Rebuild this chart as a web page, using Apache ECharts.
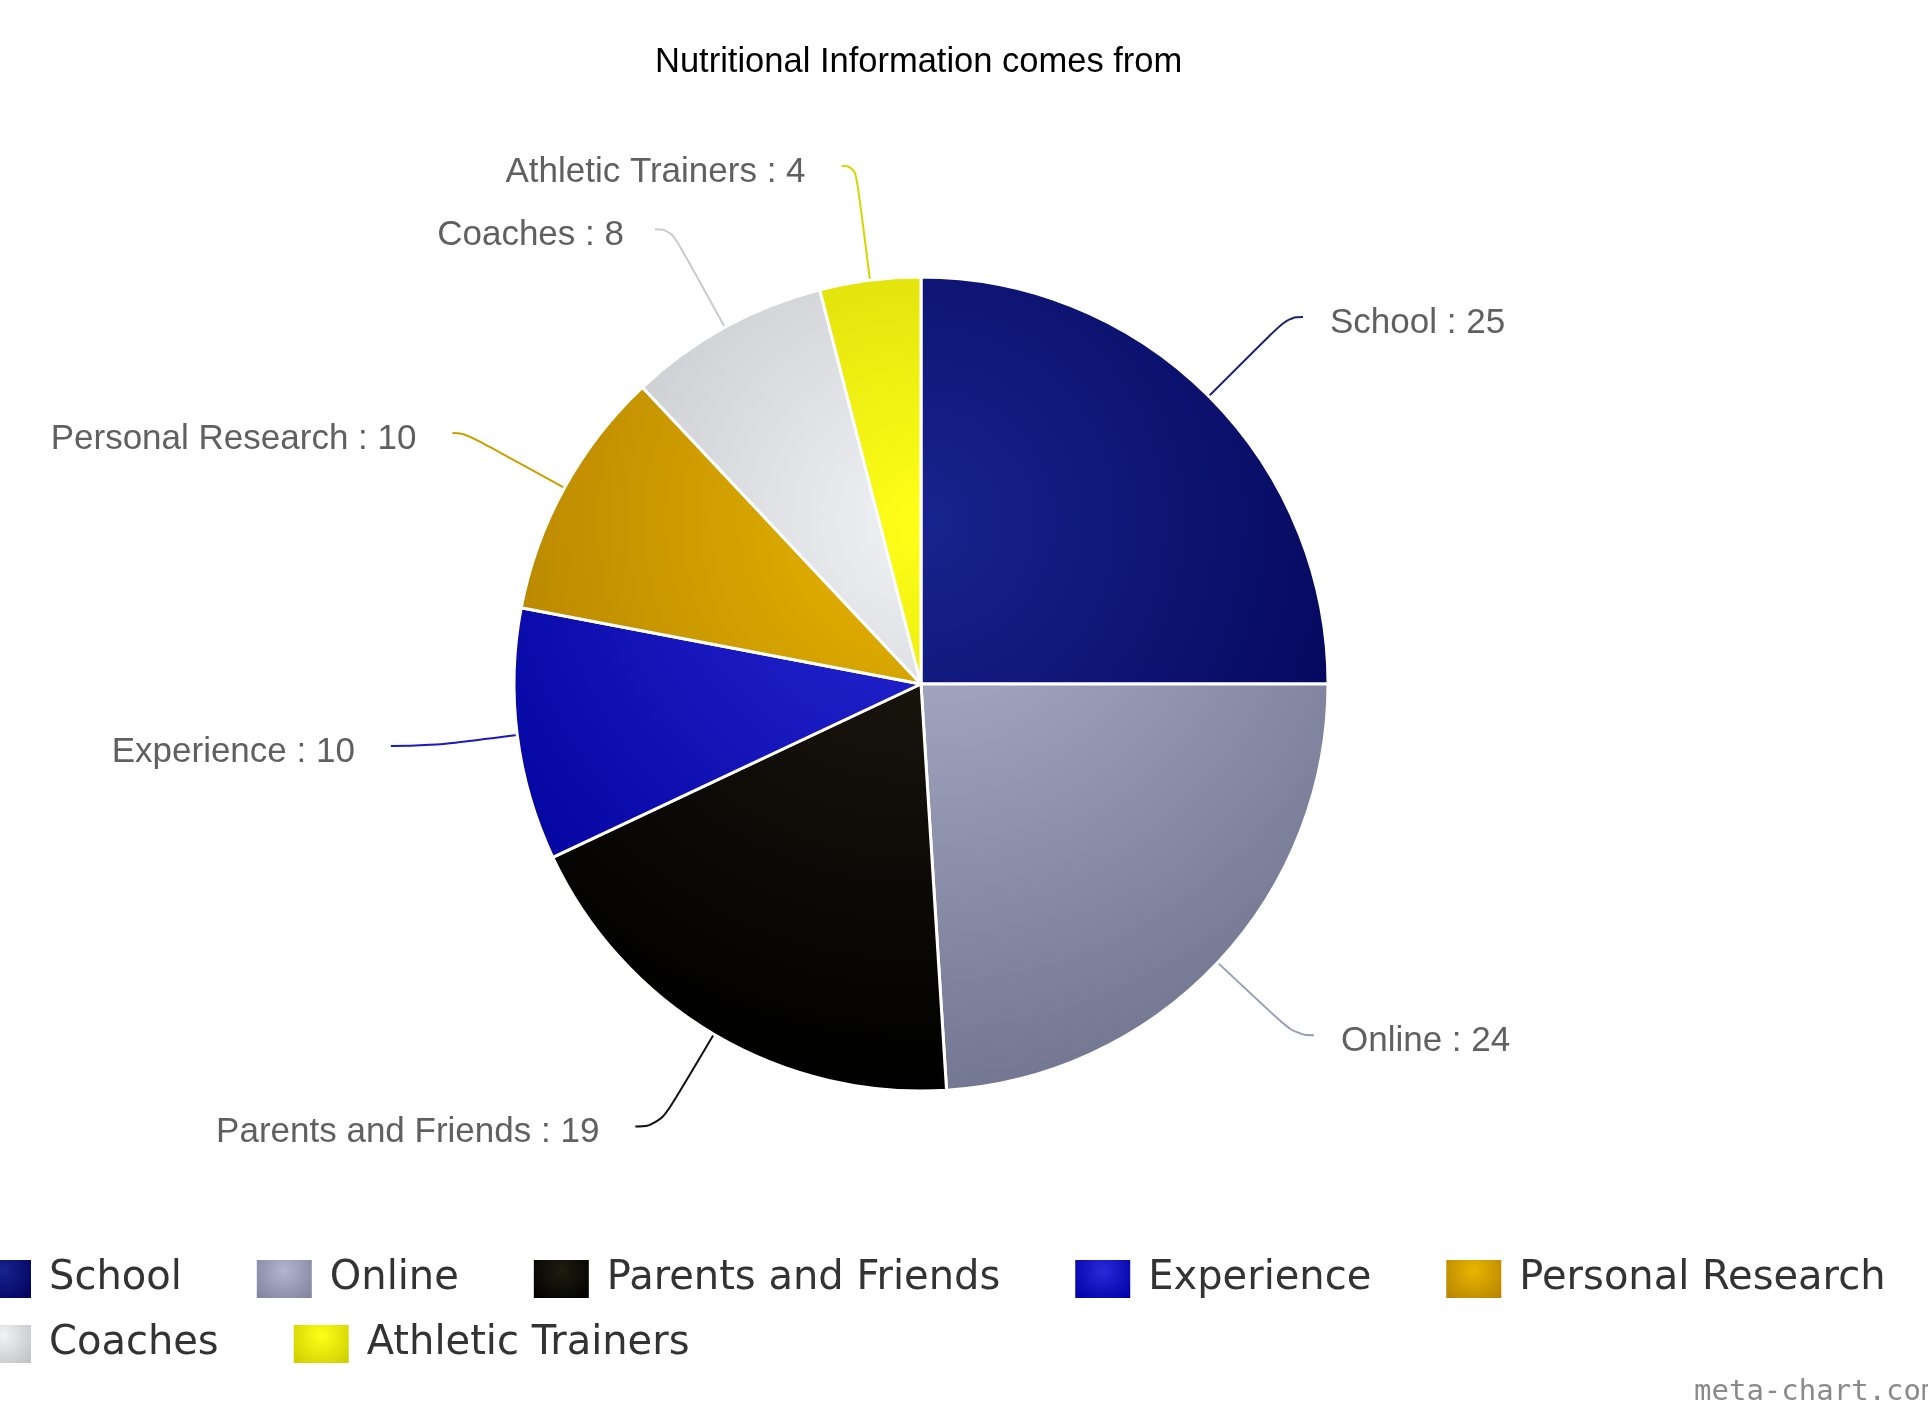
<!DOCTYPE html>
<html><head><meta charset="utf-8">
<script src="https://cdn.jsdelivr.net/npm/echarts@6/dist/echarts.min.js"></script>
<style>html,body{margin:0;padding:0;background:#fff}#c{width:1928px;height:1405px}</style>
</head><body><div id="c"></div>
<script>
const titleText = 'Nutritional Information comes from';
const categories = ['School', 'Online', 'Parents and Friends', 'Experience', 'Personal Research', 'Coaches', 'Athletic Trainers'];
const values = [25, 24, 19, 10, 10, 8, 4];
const legendRow1 = ['School', 'Online', 'Parents and Friends', 'Experience', 'Personal Research'];
const legendRow2 = ['Coaches', 'Athletic Trainers'];
const watermark = 'meta-chart.com';

// styles
const baseColors = ['#18248e', '#b2b5d0', '#201c10', '#2a2ad8', '#e8b600', '#f0f2f5', '#ffff18'];
const lineColors = ['#1c2370', '#9a9db5', '#111111', '#1a1ac0', '#c9a000', '#c8cacc', '#d6d600'];
const lineLen = [112, 106, 107, 88, 114, 112, 115];
const lineLen2 = [15, 19, 24, 39, 12, 16, 14];
const labelGap = [27, 27, 36, 36, 36, 31, 36];

const CX = 921, CY = 684, R = 407;
const DARK = 62;

function darken(hex, amt) {
  const n = parseInt(hex.slice(1), 16);
  const r = Math.max(0, (n >> 16) - amt), g = Math.max(0, ((n >> 8) & 255) - amt), b = Math.max(0, (n & 255) - amt);
  return 'rgb(' + r + ',' + g + ',' + b + ')';
}
function grad(hex) {
  return {
    type: 'radial', x: CX, y: CY - 0.4 * R, r: 1.4 * R, global: true,
    colorStops: [{ offset: 0, color: hex }, { offset: 1, color: darken(hex, DARK) }]
  };
}
function legendGrad(hex) {
  return {
    type: 'radial', x: 0.5, y: 0.3, r: 0.9,
    colorStops: [{ offset: 0, color: hex }, { offset: 1, color: darken(hex, 50) }]
  };
}

const data = categories.map((name, i) => ({
  name: name,
  value: values[i],
  itemStyle: { color: grad(baseColors[i]) },
  label: { distanceToLabelLine: labelGap[i] },
  labelLine: { length: lineLen[i], length2: lineLen2[i], lineStyle: { color: lineColors[i] } }
}));

function legendItems(names) {
  return names.map(n => {
    const i = categories.indexOf(n);
    return { name: n, itemStyle: { color: legendGrad(baseColors[i]) } };
  });
}

const chart = echarts.init(document.getElementById('c'), null, { renderer: 'canvas' });

const legendCommon = {
  orient: 'horizontal',
  left: -26,
  padding: 0,
  itemWidth: 57,
  itemHeight: 40,
  itemGap: 73,
  icon: 'rect',
  selectedMode: false,
  textStyle: { fontFamily: 'DejaVu Sans', fontSize: 40, color: '#333333', padding: [0, 0, 0, 12] }
};

chart.setOption({
  backgroundColor: '#ffffff',
  animation: false,
  title: {
    text: titleText,
    left: 655,
    top: 45,
    padding: 0,
    textStyle: { fontFamily: 'Liberation Sans', fontSize: 34.5, fontWeight: 'normal', color: '#000000' }
  },
  legend: [
    Object.assign({}, legendCommon, { top: 1258, data: legendItems(legendRow1) }),
    Object.assign({}, legendCommon, { top: 1323, data: legendItems(legendRow2) })
  ],
  graphic: [{
    type: 'text', left: 1694, top: 1378,
    style: { text: watermark, fontFamily: 'DejaVu Sans Mono', fontSize: 29, fill: '#8a8a8a' }
  }],
  series: [{
    type: 'pie',
    center: [CX, CY],
    radius: [0, R],
    startAngle: 90,
    clockwise: true,
    avoidLabelOverlap: false,
    itemStyle: { borderColor: '#ffffff', borderWidth: 3 },
    label: {
      show: true,
      position: 'outside',
      formatter: '{t|{b} : {c}}',
      fontFamily: 'Liberation Sans',
      fontSize: 35,
      color: '#606060',
      rich: {
        t: { fontFamily: 'Liberation Sans', fontSize: 35, color: '#606060', padding: [12, 0, 0, 0] }
      }
    },
    labelLine: { show: true, smooth: 0.5, lineStyle: { width: 2 } },
    emphasis: { disabled: true },
    data: data
  }]
});
</script>
</body></html>
